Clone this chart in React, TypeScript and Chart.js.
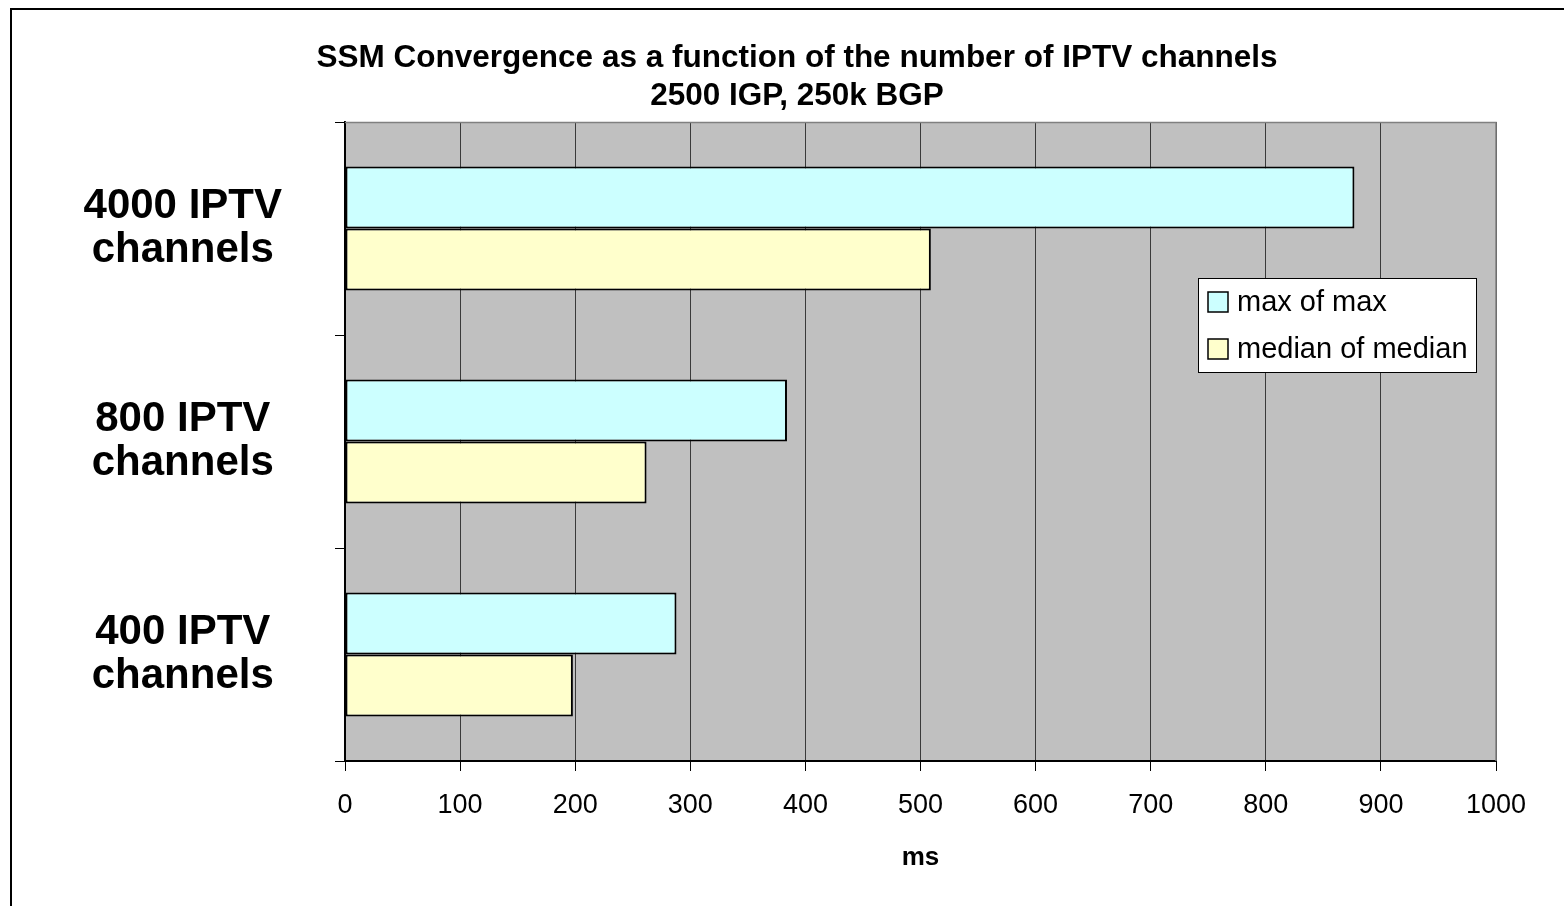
import React, { useEffect, useRef } from "react";
import { Chart, registerables } from "chart.js";

Chart.register(...registerables);

const categories: string[][] = [
  ["4000 IPTV", "channels"],
  ["800 IPTV", "channels"],
  ["400 IPTV", "channels"],
];
const maxOfMax: number[] = [877, 384, 288];
const medianOfMedian: number[] = [509, 262, 198];
const seriesNames: string[] = ["max of max", "median of median"];
const seriesColors: string[] = ["#CCFFFF", "#FFFFCC"];
const titleLines: string[] = [
  "SSM Convergence as a function of the number of IPTV channels",
  "2500 IGP, 250k BGP",
];
const xAxisTitle = "ms";
const xMin = 0;
const xMax = 1000;
const xStep = 100;

const FONT = "'Liberation Sans', Arial, Helvetica, sans-serif";

const framePlugin = {
  id: "frameBg",
  beforeDraw(chart: any) {
    const { ctx, width, height, chartArea } = chart;
    ctx.save();
    ctx.fillStyle = "#ffffff";
    ctx.fillRect(0, 0, width, height);
    ctx.strokeStyle = "#000000";
    ctx.lineWidth = 2;
    ctx.beginPath();
    ctx.moveTo(11, height);
    ctx.lineTo(11, 9);
    ctx.lineTo(width, 9);
    ctx.stroke();
    ctx.fillStyle = "#C0C0C0";
    ctx.fillRect(chartArea.left, chartArea.top, chartArea.right - chartArea.left, chartArea.bottom - chartArea.top);
    ctx.restore();
  },
  afterDatasetsDraw(chart: any) {
    const { ctx, chartArea } = chart;
    ctx.save();
    ctx.strokeStyle = "#808080";
    ctx.lineWidth = 1.5;
    ctx.beginPath();
    ctx.moveTo(chartArea.left, chartArea.top + 0.5);
    ctx.lineTo(chartArea.right, chartArea.top + 0.5);
    ctx.lineTo(chartArea.right, chartArea.bottom);
    ctx.stroke();
    ctx.restore();
  },
};

const legendPlugin = {
  id: "boxLegend",
  afterDraw(chart: any) {
    const { ctx, chartArea } = chart;
    const w = 278;
    const h = 94;
    const x = chartArea.right - 298;
    const y = chartArea.top + 156;
    ctx.save();
    ctx.fillStyle = "#ffffff";
    ctx.fillRect(x, y, w, h);
    ctx.strokeStyle = "#000000";
    ctx.lineWidth = 1;
    ctx.strokeRect(x + 0.5, y + 0.5, w, h);
    ctx.font = `29px ${FONT}`;
    ctx.textBaseline = "middle";
    ctx.textAlign = "left";
    chart.data.datasets.forEach((ds: any, i: number) => {
      const cy = y + 24 + i * 47;
      ctx.fillStyle = ds.backgroundColor;
      ctx.fillRect(x + 10, cy - 10, 20, 20);
      ctx.strokeStyle = "#000000";
      ctx.lineWidth = 1.5;
      ctx.strokeRect(x + 10, cy - 10, 20, 20);
      ctx.fillStyle = "#000000";
      ctx.fillText(ds.label, x + 39, cy + 1);
    });
    ctx.restore();
  },
};

export default function App() {
  const canvasRef = useRef<HTMLCanvasElement | null>(null);

  useEffect(() => {
    if (!canvasRef.current) return;
    const chart = new Chart(canvasRef.current, {
      type: "bar",
      data: {
        labels: categories,
        datasets: [
          {
            label: seriesNames[0],
            data: maxOfMax,
            backgroundColor: seriesColors[0],
            borderColor: "#000000",
            borderWidth: 2,
            borderSkipped: false,
            yAxisID: "y",
          },
          {
            label: seriesNames[1],
            data: medianOfMedian,
            backgroundColor: seriesColors[1],
            borderColor: "#000000",
            borderWidth: 2,
            borderSkipped: false,
            yAxisID: "y",
          },
        ],
      },
      options: {
        indexAxis: "y",
        responsive: false,
        animation: false,
        devicePixelRatio: 1,
        layout: { padding: { left: 30, right: 0, top: 0, bottom: 0 } },
        datasets: { bar: { categoryPercentage: 0.582, barPercentage: 1 } },
        plugins: {
          legend: { display: false },
          tooltip: { enabled: false },
          title: {
            display: true,
            text: titleLines,
            color: "#000000",
            font: { family: FONT, size: 31.5, weight: "bold", lineHeight: 38 / 31.5 },
            padding: { top: 39, bottom: 7 },
          },
        },
        scales: {
          x: {
            type: "linear",
            position: "bottom",
            min: xMin,
            max: xMax,
            ticks: {
              stepSize: xStep,
              color: "#000000",
              font: { family: FONT, size: 27 },
              padding: 18,
              maxRotation: 0,
              callback: (v: any) => String(v),
            },
            grid: {
              color: "#3a3a3a",
              lineWidth: 1,
              tickColor: "#000000",
              tickLength: 10,
            },
            border: { display: true, color: "#000000", width: 2 },
            title: {
              display: true,
              text: xAxisTitle,
              color: "#000000",
              font: { family: FONT, size: 26, weight: "bold" },
              padding: { top: 0, bottom: 33 },
            },
            afterFit(scale: any) {
              scale.height = 145;
            },
          },
          y: {
            type: "category",
            position: "left",
            offset: true,
            ticks: {
              color: "#000000",
              font: { family: FONT, size: 42, weight: "bold", lineHeight: 44 / 42 },
              crossAlign: "center",
              padding: 53,
            },
            grid: {
              display: true,
              offset: true,
              drawOnChartArea: false,
              drawTicks: true,
              tickLength: 10,
              tickColor: "#000000",
              lineWidth: 1,
            },
            border: { display: true, color: "#000000", width: 2 },
            afterFit(scale: any) {
              scale.width = 315;
            },
          },
          yRight: {
            type: "category",
            position: "right",
            offset: true,
            display: true,
            ticks: { display: false },
            grid: { display: false, drawTicks: false },
            border: { display: false },
            afterFit(scale: any) {
              scale.width = 68;
            },
          },
        },
      },
      plugins: [framePlugin, legendPlugin],
    } as any);
    return () => chart.destroy();
  }, []);

  return (
    <div style={{ position: "absolute", left: 0, top: 0, width: 1564, height: 906 }}>
      <canvas ref={canvasRef} width={1564} height={906} style={{ display: "block" }} />
    </div>
  );
}
